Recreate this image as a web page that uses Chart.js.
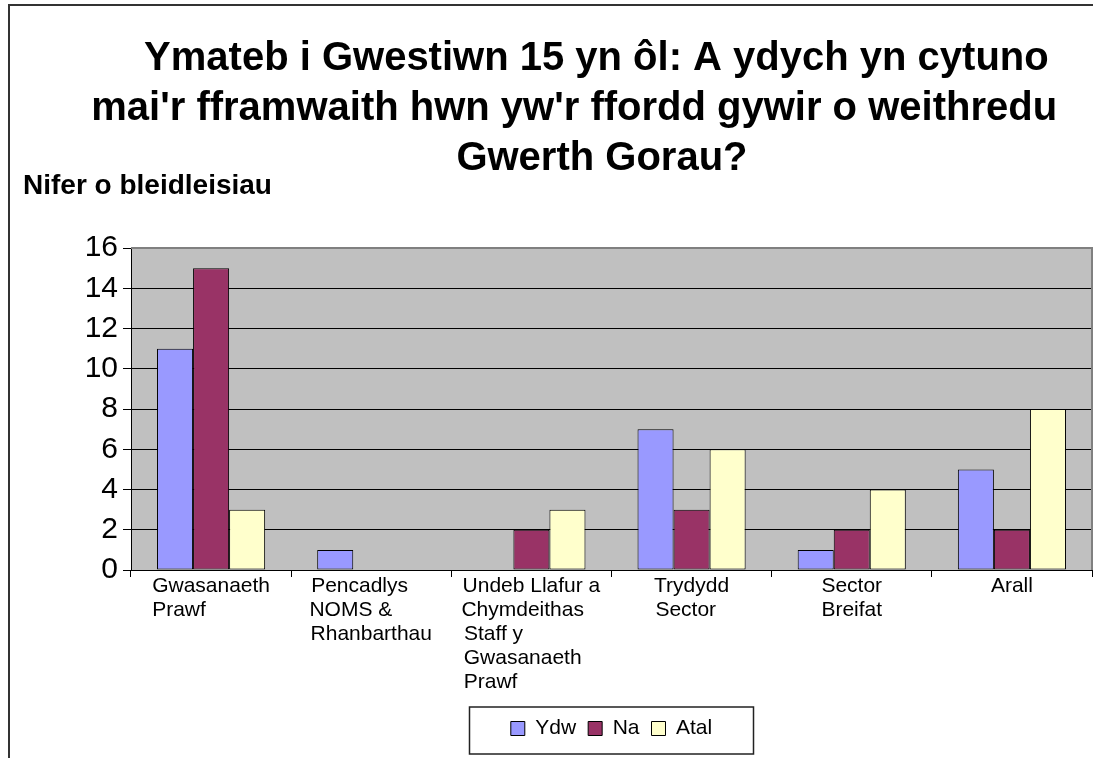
<!DOCTYPE html>
<html>
<head>
<meta charset="utf-8">
<script src="https://cdn.jsdelivr.net/npm/chart.js@4.4.1/dist/chart.umd.min.js"></script>
<style>
html,body{margin:0;padding:0;background:#fff;overflow:hidden}
</style>
</head>
<body>
<canvas id="myChart" width="1103" height="758"></canvas>
<script>
// chart text
const titleLines = [
  '       Ymateb i Gwestiwn 15 yn ôl: A ydych yn cytuno',
  "   mai'r fframwaith hwn yw'r ffordd gywir o weithredu",
  '        Gwerth Gorau?'
]
const yAxisTitle = 'Nifer o bleidleisiau'

// categories (one array of lines per category)
const categories = [
  ['Gwasanaeth', 'Prawf'],
  ['Pencadlys', 'NOMS &', 'Rhanbarthau'],
  ['Undeb Llafur a', 'Chymdeithas', 'Staff y', 'Gwasanaeth', 'Prawf'],
  ['Trydydd', 'Sector'],
  ['Sector', 'Breifat'],
  ['Arall']
]

// series
const seriesNames = ['Ydw', 'Na', 'Atal']
const ydw  = [11, 1, 0, 7, 1, 5]
const na   = [15, 0, 2, 3, 2, 2]
const atal = [3, 0, 3, 6, 4, 8]

// y axis ticks
const yMin = 0
const yMax = 16
const yStep = 2

const FONT = "'Liberation Sans', Arial, sans-serif"
Chart.defaults.font.family = FONT
Chart.defaults.color = '#000'

// Excel wraps category text left aligned inside a centred block:
// pad short lines so every line starts at the same x
const measure = document.createElement('canvas').getContext('2d')
function padLines(lines){
  measure.font = '21px ' + FONT
  const w = lines.map(l => measure.measureText(l).width)
  const maxW = Math.max(...w)
  const sp = measure.measureText(' ').width
  return lines.map((l, i) => l + ' '.repeat(Math.round((maxW - w[i]) / sp)))
}

const excelLook = {
  id: 'excelLook',
  beforeDraw(chart){
    const {ctx, chartArea: a} = chart
    ctx.save()
    ctx.fillStyle = '#fff'
    ctx.fillRect(0, 0, chart.width, chart.height)
    ctx.fillStyle = '#C0C0C0'
    ctx.fillRect(a.left, a.top, a.right - a.left, a.bottom - a.top)
    ctx.restore()
  },
  beforeDatasetsDraw(chart){
    const {ctx, chartArea: a} = chart
    ctx.save()
    ctx.strokeStyle = '#808080'
    ctx.lineWidth = 2
    ctx.beginPath()
    ctx.moveTo(a.left, a.top)
    ctx.lineTo(a.right, a.top)
    ctx.lineTo(a.right, a.bottom)
    ctx.stroke()
    ctx.restore()
  },
  afterDraw(chart){
    const {ctx, legend} = chart
    ctx.save()
    // outer chart frame (cut off at right and bottom)
    ctx.strokeStyle = '#333'
    ctx.lineWidth = 2
    ctx.beginPath()
    ctx.moveTo(9, chart.height)
    ctx.lineTo(9, 5)
    ctx.lineTo(1093, 5)
    ctx.stroke()
    // legend box
    const cx = (legend.left + legend.right) / 2
    ctx.strokeStyle = '#222'
    ctx.lineWidth = 1.5
    ctx.strokeRect(cx - 142, legend.top + 1, 284, 47)
    ctx.restore()
  }
}

chartIt()

function chartIt(){
  const ctx = document.getElementById('myChart').getContext('2d')
  const barStyle = {borderColor: '#000', borderWidth: 1, borderSkipped: false,
                    categoryPercentage: 0.675, barPercentage: 1}
  new Chart(ctx, {
    type: 'bar',
    data: {
      labels: categories,
      datasets: [
        {label: seriesNames[0], data: ydw,  backgroundColor: '#9999FF', ...barStyle},
        {label: seriesNames[1], data: na,   backgroundColor: '#993366', ...barStyle},
        {label: seriesNames[2], data: atal, backgroundColor: '#FFFFCC', ...barStyle}
      ]
    },
    options: {
      responsive: false,
      animation: false,
      layout: {padding: {left: 23, right: 11, top: 0, bottom: 9}},
      plugins: {
        title: {
          display: true,
          text: titleLines,
          color: '#000',
          font: {size: 40, weight: 'bold', lineHeight: 1.25},
          padding: {top: 34, bottom: -12}
        },
        subtitle: {
          display: true,
          text: yAxisTitle,
          align: 'start',
          color: '#000',
          font: {size: 28, weight: 'bold', lineHeight: 1},
          padding: {top: 0, bottom: 48}
        },
        legend: {
          position: 'bottom',
          fullSize: false,
          labels: {
            boxWidth: 14,
            boxHeight: 14,
            padding: 12,
            color: '#000',
            font: {size: 21}
          }
        },
        tooltip: {enabled: false}
      },
      scales: {
        x: {
          grid: {drawOnChartArea: false, drawTicks: true, tickLength: 7, color: '#000', offset: true},
          border: {color: '#000', width: 1},
          ticks: {
            color: '#000',
            font: {size: 21, lineHeight: 1.14},
            padding: -3,
            maxRotation: 0,
            autoSkip: false,
            callback: (value, index) => padLines(categories[index])
          },
          afterFit: scale => { scale.height = 136 }
        },
        y: {
          min: yMin,
          max: yMax,
          grid: {
            color: c => (c.tick && c.tick.value === yMax) ? '#808080' : '#000',
            tickColor: '#000',
            tickLength: 8,
            lineWidth: 1
          },
          border: {color: '#000', width: 1},
          ticks: {stepSize: yStep, color: '#000', font: {size: 30}, padding: 5},
          afterFit: scale => { scale.width = 108 }
        }
      }
    },
    plugins: [excelLook]
  })
}
</script>
</body>
</html>
